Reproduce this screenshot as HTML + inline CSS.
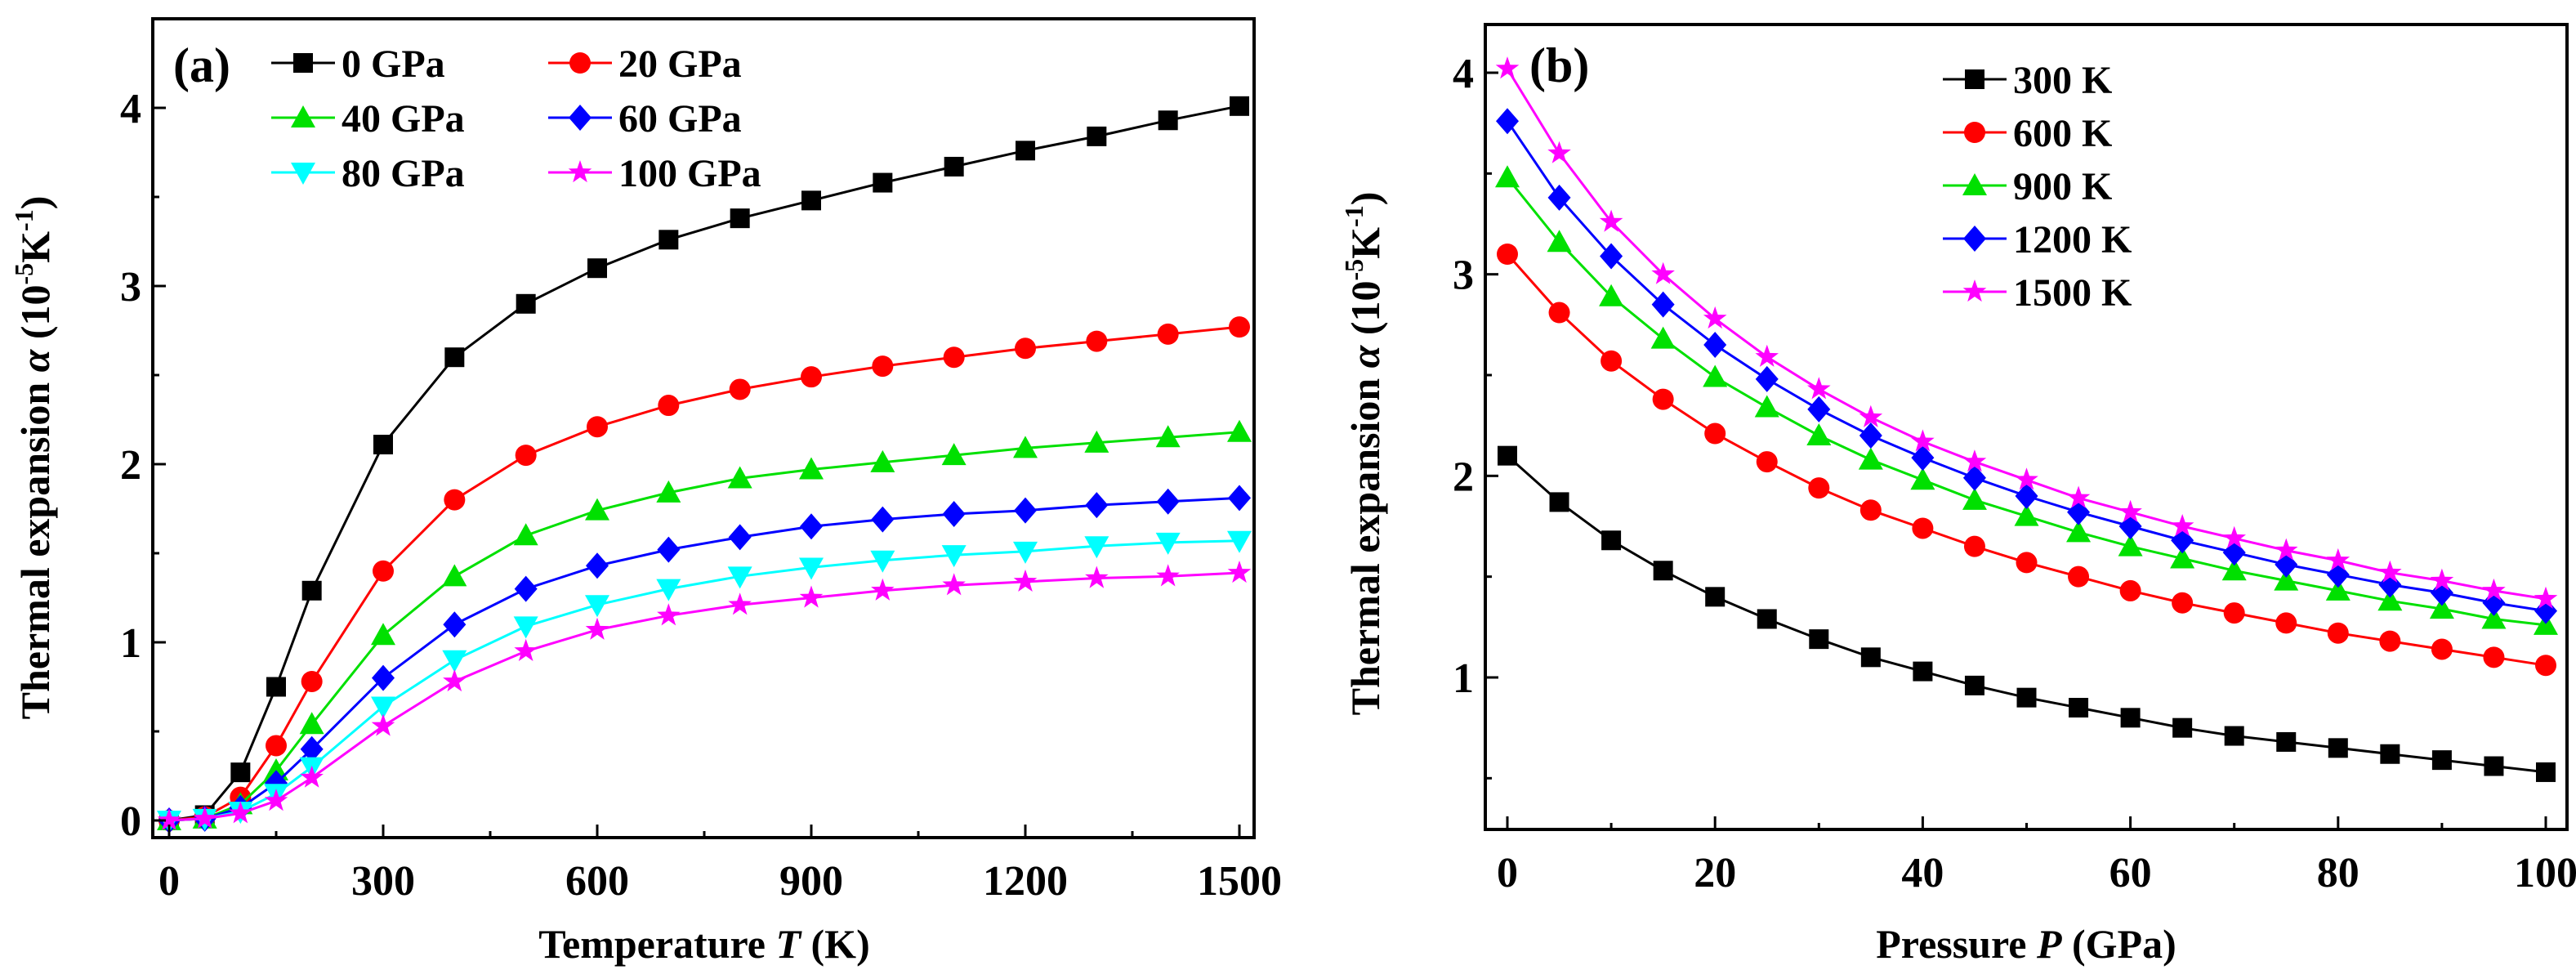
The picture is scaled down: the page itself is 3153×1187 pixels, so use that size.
<!DOCTYPE html>
<html><head><meta charset="utf-8"><style>
html,body{margin:0;padding:0;background:#fff;}
svg{display:block;font-family:"Liberation Serif",serif;font-weight:bold;}
</style></head><body>
<svg id="fig" width="3153" height="1187" viewBox="0 0 3153 1187" xmlns="http://www.w3.org/2000/svg"></svg>
<script>
// Panel (a) data
const tempsA = [0,50,100,150,200,300,400,500,600,700,800,900,1000,1100,1200,1300,1400,1500];
const a0 = [0,0.03,0.27,0.75,1.29,2.11,2.6,2.9,3.1,3.26,3.38,3.48,3.58,3.67,3.76,3.84,3.93,4.01];
const a20 = [0,0.02,0.13,0.42,0.78,1.40,1.80,2.05,2.21,2.33,2.42,2.49,2.55,2.60,2.65,2.69,2.73,2.77];
const a40 = [0,0.01,0.09,0.28,0.54,1.04,1.37,1.60,1.74,1.84,1.92,1.97,2.01,2.05,2.09,2.12,2.15,2.18];
const a60 = [0,0.01,0.07,0.21,0.40,0.80,1.10,1.30,1.43,1.52,1.59,1.65,1.69,1.72,1.74,1.77,1.79,1.81];
const a80 = [0,0.01,0.05,0.15,0.30,0.64,0.90,1.09,1.21,1.30,1.37,1.42,1.46,1.49,1.51,1.54,1.56,1.57];
const a100 = [0,0.01,0.04,0.11,0.24,0.53,0.78,0.95,1.07,1.15,1.21,1.25,1.29,1.32,1.34,1.36,1.37,1.39];
const labelsA = ["0 GPa","20 GPa","40 GPa","60 GPa","80 GPa","100 GPa"];
const xTicksA = [0,300,600,900,1200,1500];
const yTicksA = [0,1,2,3,4];
// Panel (b) data
const pressB = [0,5,10,15,20,25,30,35,40,45,50,55,60,65,70,75,80,85,90,95,100];
const b300 = [2.10,1.87,1.68,1.53,1.40,1.29,1.19,1.10,1.03,0.96,0.90,0.85,0.80,0.75,0.71,0.68,0.65,0.62,0.59,0.56,0.53];
const b600 = [3.10,2.81,2.57,2.38,2.21,2.07,1.94,1.83,1.74,1.65,1.57,1.50,1.43,1.37,1.32,1.27,1.22,1.18,1.14,1.10,1.06];
const b900 = [3.48,3.16,2.89,2.68,2.49,2.34,2.20,2.08,1.98,1.88,1.80,1.72,1.65,1.59,1.53,1.48,1.43,1.38,1.34,1.29,1.26];
const b1200 = [3.76,3.38,3.09,2.85,2.65,2.48,2.33,2.20,2.09,1.99,1.90,1.82,1.75,1.68,1.62,1.56,1.51,1.46,1.42,1.37,1.33];
const b1500 = [4.02,3.60,3.26,3.00,2.78,2.59,2.43,2.29,2.17,2.07,1.98,1.89,1.82,1.75,1.69,1.63,1.58,1.52,1.48,1.43,1.39];
const labelsB = ["300 K","600 K","900 K","1200 K","1500 K"];
const xTicksB = [0,20,40,60,80,100];
const yTicksB = [1,2,3,4];

const NS="http://www.w3.org/2000/svg";
const svg=document.getElementById('fig');
function mk(tag,attrs,parent){const e=document.createElementNS(NS,tag);for(const k in attrs)e.setAttribute(k,attrs[k]);(parent||svg).appendChild(e);return e;}

function marker(g,type,cx,cy,color){
  const s=12;let e;
  if(type==='square') e=mk('rect',{x:cx-s,y:cy-s,width:2*s,height:2*s,fill:color},g);
  else if(type==='circle') e=mk('circle',{cx:cx,cy:cy,r:13,fill:color},g);
  else if(type==='up') e=mk('polygon',{points:`${cx},${cy-15} ${cx+15},${cy+12} ${cx-15},${cy+12}`,fill:color},g);
  else if(type==='down') e=mk('polygon',{points:`${cx},${cy+15} ${cx+15},${cy-12} ${cx-15},${cy-12}`,fill:color},g);
  else if(type==='diamond') e=mk('polygon',{points:`${cx},${cy-16} ${cx+14},${cy} ${cx},${cy+16} ${cx-14},${cy}`,fill:color},g);
  else {let p=[];for(let i=0;i<10;i++){const r=i%2?6:15;const a=-Math.PI/2+i*Math.PI/5;p.push((cx+r*Math.cos(a)).toFixed(1)+','+(cy+r*Math.sin(a)).toFixed(1));}
    e=mk('polygon',{points:p.join(' '),fill:color},g);}
  
  
  return e;
}

function panel(cfg){
  const g=mk('g',{});
  
  
  const X=v=>cfg.x0px+(v-cfg.x0)*(cfg.x1px-cfg.x0px)/(cfg.x1-cfg.x0);
  const Y=v=>cfg.y0px+(v-cfg.y0)*(cfg.y1px-cfg.y0px)/(cfg.y1-cfg.y0);
  // series
  cfg.series.forEach((s,i)=>{
    const sg=mk('g',{},g);
    
    
    const pts=cfg.xs.map((x,j)=>X(x).toFixed(1)+','+Y(s.vals[j]).toFixed(1)).join(' ');
    const pl=mk('polyline',{points:pts,fill:'none',stroke:s.color,'stroke-width':3},sg);
    
    
    cfg.xs.forEach((x,j)=>marker(sg,s.m,X(x),Y(s.vals[j]),s.color));
  });
  // frame
  const fr=mk('rect',{x:cfg.L,y:cfg.T,width:cfg.R-cfg.L,height:cfg.B-cfg.T,fill:'none',stroke:'#000','stroke-width':4},g);
  
  
  // x ticks
  cfg.xMinor.forEach(v=>{mk('line',{x1:X(v),x2:X(v),y1:cfg.B,y2:cfg.B-8,stroke:'#000','stroke-width':3},g);});
  cfg.xTicks.forEach(v=>{
    mk('line',{x1:X(v),x2:X(v),y1:cfg.B,y2:cfg.B-16,stroke:'#000','stroke-width':3},g);
    const t=mk('text',{x:X(v),y:cfg.B+70,'text-anchor':'middle','font-size':52},g);t.textContent=v;
    
    
  });
  cfg.yMinor.forEach(v=>{mk('line',{x1:cfg.L,x2:cfg.L+8,y1:Y(v),y2:Y(v),stroke:'#000','stroke-width':3},g);});
  cfg.yTicks.forEach(v=>{
    mk('line',{x1:cfg.L,x2:cfg.L+16,y1:Y(v),y2:Y(v),stroke:'#000','stroke-width':3},g);
    const t=mk('text',{x:cfg.L-14,y:Y(v)+18,'text-anchor':'end','font-size':52},g);t.textContent=v;
    
    
  });
  // titles
  const xt=mk('text',{x:cfg.xtX,y:1172,'text-anchor':'middle','font-size':50},g);
  xt.innerHTML=cfg.xTitle;
  
  
  const yt=mk('text',{x:0,y:0,'text-anchor':'middle','font-size':50,transform:`translate(${cfg.ytX},${cfg.ytY}) rotate(-90)`},g);
  yt.innerHTML='Thermal expansion <tspan font-style="italic">α</tspan> (10<tspan font-size="32" dy="-20">-5</tspan><tspan dy="20">K</tspan><tspan font-size="32" dy="-20">-1</tspan><tspan dy="20">)</tspan>';
  
  
  const pl=mk('text',{x:cfg.plX,y:100,'font-size':60},g);pl.textContent=cfg.panelLabel;
  
  
  // legend
  cfg.series.forEach((s,i)=>{
    const pos=cfg.legendPos(i);
    const lg=mk('g',{},g);
    
    
    mk('line',{x1:pos.x,x2:pos.x+78,y1:pos.y,y2:pos.y,stroke:s.color,'stroke-width':3},lg);
    marker(lg,s.m,pos.x+39,pos.y,s.color);
    const t=mk('text',{x:pos.x+86,y:pos.y+17,'font-size':48},lg);t.textContent=s.label;
  });
}
const range=(a,b,s)=>{const r=[];for(let v=a;v<=b+1e-9;v+=s)r.push(+v.toFixed(3));return r;};

panel({name:'panel-a',L:187,R:1535,T:23,B:1025,x0:0,x1:1500,x0px:207,x1px:1517,y0:0,y1:4,y0px:1004,y1px:132,
  xs:tempsA,xTicks:xTicksA,yTicks:yTicksA,xMinor:range(150,1500,300),yMinor:range(0.5,4.5,1),
  xTitle:'Temperature <tspan font-style="italic">T</tspan> (K)',xtX:862,ytX:60,ytY:560,plX:212,panelLabel:'(a)',
  series:[{label:labelsA[0],vals:a0,color:'#000000',m:'square'},{label:labelsA[1],vals:a20,color:'#ff0000',m:'circle'},
    {label:labelsA[2],vals:a40,color:'#00e000',m:'up'},{label:labelsA[3],vals:a60,color:'#0000ff',m:'diamond'},
    {label:labelsA[4],vals:a80,color:'#00ffff',m:'down'},{label:labelsA[5],vals:a100,color:'#ff00ff',m:'star'}],
  legendPos:i=>({x:(i%2?671:332),y:77+Math.floor(i/2)*67})});

panel({name:'panel-b',L:1818,R:3142,T:30,B:1015,x0:0,x1:100,x0px:1845,x1px:3116,y0:1,y1:4,y0px:829,y1px:89,
  xs:pressB,xTicks:xTicksB,yTicks:yTicksB,xMinor:range(10,100,20),yMinor:range(0.5,4,1),
  xTitle:'Pressure <tspan font-style="italic">P</tspan> (GPa)',xtX:2480,ytX:1688,ytY:555,plX:1872,panelLabel:'(b)',
  series:[{label:labelsB[0],vals:b300,color:'#000000',m:'square'},{label:labelsB[1],vals:b600,color:'#ff0000',m:'circle'},
    {label:labelsB[2],vals:b900,color:'#00e000',m:'up'},{label:labelsB[3],vals:b1200,color:'#0000ff',m:'diamond'},
    {label:labelsB[4],vals:b1500,color:'#ff00ff',m:'star'}],
  legendPos:i=>({x:2378,y:97+i*65})});
</script>
</body></html>
